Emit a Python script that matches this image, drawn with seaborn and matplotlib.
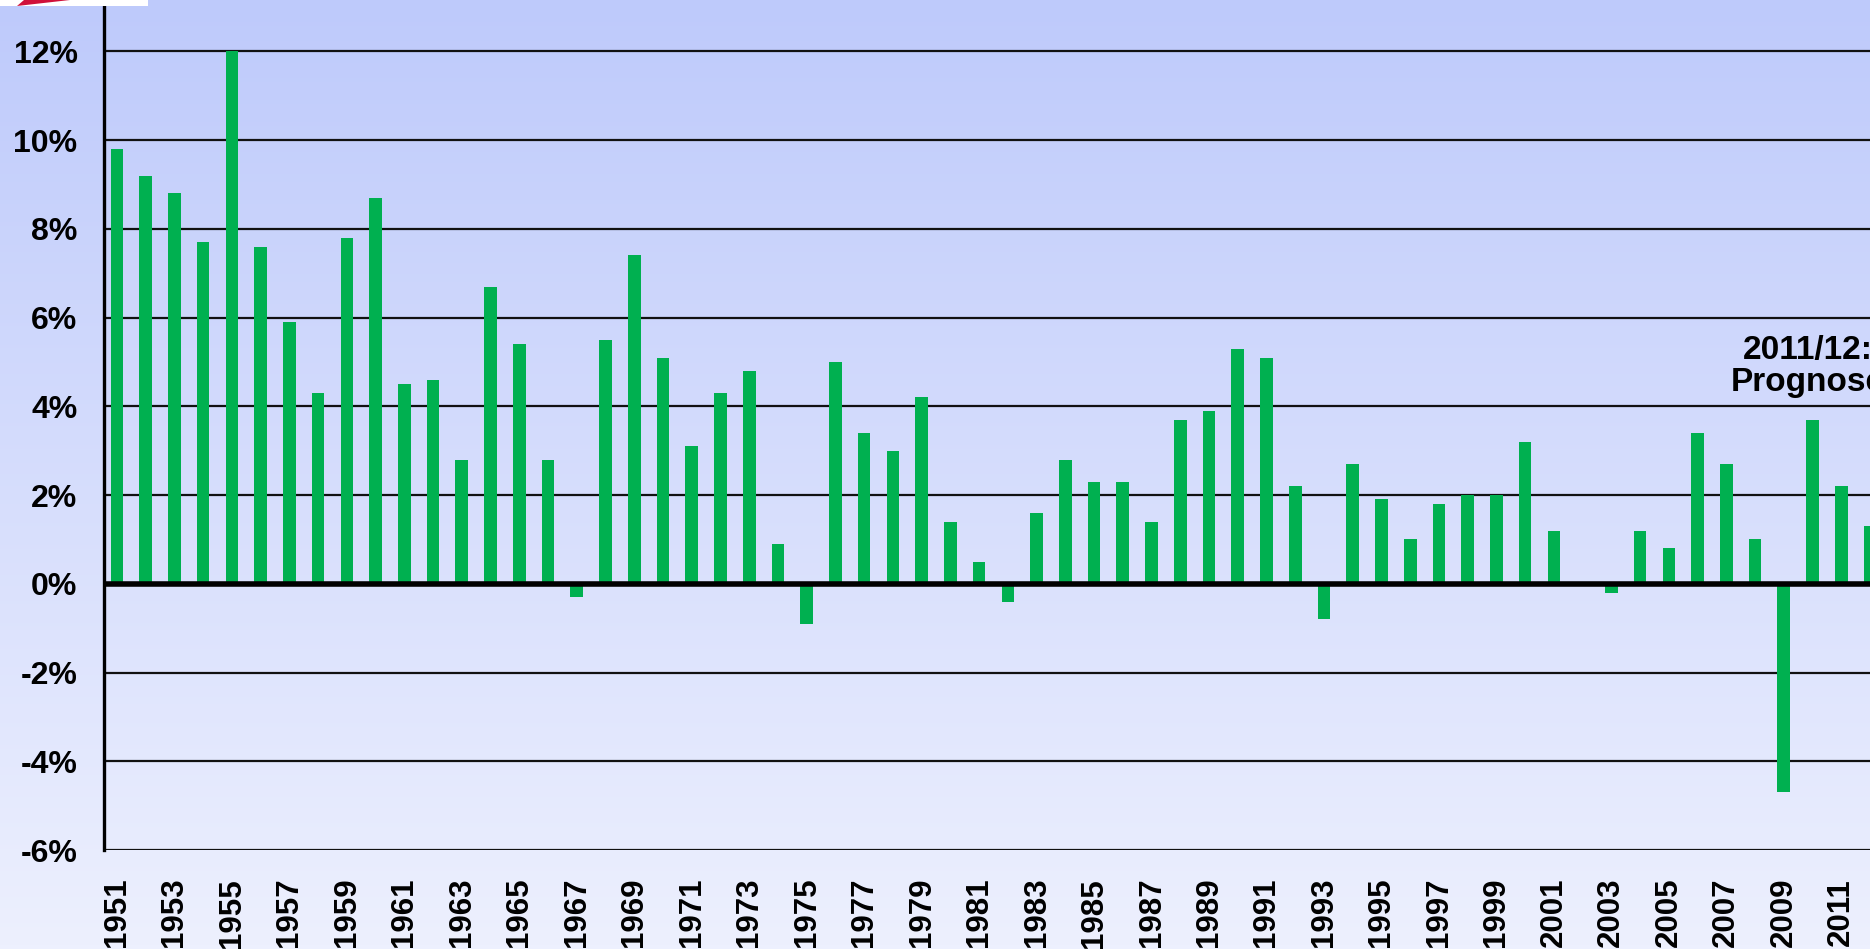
import numpy as np
import pandas as pd
import matplotlib
matplotlib.use("Agg")
import matplotlib.pyplot as plt
import seaborn as sns
from matplotlib.patches import Rectangle, Polygon

# growth rates (percent)
years = list(range(1951, 2013))
growth = [9.8, 9.2, 8.8, 7.7, 12.0, 7.6, 5.9, 4.3, 7.8, 8.7,
          4.5, 4.6, 2.8, 6.7, 5.4, 2.8, -0.3, 5.5, 7.4, 5.1,
          3.1, 4.3, 4.8, 0.9, -0.9, 5.0, 3.4, 3.0, 4.2, 1.4,
          0.5, -0.4, 1.6, 2.8, 2.3, 2.3, 1.4, 3.7, 3.9, 5.3,
          5.1, 2.2, -0.8, 2.7, 1.9, 1.0, 1.8, 2.0, 2.0, 3.2,
          1.2, 0.0, -0.2, 1.2, 0.8, 3.4, 2.7, 1.0, -4.7, 3.7,
          2.2, 1.3]
y_ticks = [-6, -4, -2, 0, 2, 4, 6, 8, 10, 12]
note = "2011/12:\nPrognose"

df = pd.DataFrame({"year": [str(y) for y in years], "growth": growth})

sns.set_theme(style="white")
plt.rcParams["font.family"] = ["Liberation Sans", "DejaVu Sans"]
plt.rcParams["font.weight"] = "bold"
plt.rcParams["text.color"] = "black"
plt.rcParams["xtick.color"] = "black"
plt.rcParams["ytick.color"] = "black"

W, H = 1870, 949
fig = plt.figure(figsize=(W / 100, H / 100), dpi=100)

# vertical gradient background over the whole figure
bg = fig.add_axes([0, 0, 1, 1], zorder=0)
top = np.array([190, 202, 251]) / 255
bot = np.array([237, 240, 254]) / 255
t = np.linspace(0, 1, 256)[:, None]
grad = top[None, :] * (1 - t) + bot[None, :] * t
bg.imshow(grad[:, None, :], aspect="auto", extent=[0, 1, 0, 1])
bg.set_axis_off()

# cut-off logo in the corner
fig.patches.append(Rectangle((0, 1 - 6 / H), 148 / W, 6 / H, transform=fig.transFigure,
                             facecolor="white", edgecolor="none", zorder=5))
fig.patches.append(Polygon([(17 / W, 1 - 6 / H), (24 / W, 1), (70 / W, 1)],
                           closed=True, transform=fig.transFigure,
                           facecolor="#d0103a", edgecolor="none", zorder=6))

ax = fig.add_axes([104 / W, 1 - 850 / H, 1 - 104 / W, (850 - 7) / H], zorder=1)
ax.set_facecolor("none")

sns.barplot(data=df, x="year", y="growth", color="#00B050", saturation=1,
            width=0.44, errorbar=None, linewidth=0, ax=ax, zorder=3)

ax.set_xlim(-0.45, 61.0)
ax.set_ylim(-6, 13)
ax.set_yticks(y_ticks)
ax.set_yticklabels([f"{v}%" for v in y_ticks], fontsize=23, fontweight="bold")
for v in y_ticks:
    ax.axhline(v, color="#111111", lw=1.6, zorder=2)
ax.axhline(0, color="black", lw=4, zorder=4)

ax.set_xticks(range(0, len(years), 2))
ax.set_xticklabels([str(y) for y in years[::2]], rotation=90, fontsize=22.5,
                   fontweight="bold", va="top")
ax.tick_params(axis="x", length=0, pad=20)
ax.tick_params(axis="y", length=8, width=1.6, color="black", direction="out", pad=11)
ax.set_xlabel("")
ax.set_ylabel("")

for s in ["top", "right", "bottom"]:
    ax.spines[s].set_visible(False)
ax.spines["left"].set_color("black")
ax.spines["left"].set_linewidth(2.4)
ax.spines["left"].set_zorder(5)

ax.text(58.85, 4.9, note, ha="center", va="center", fontsize=24,
        fontweight="bold", linespacing=1.05, zorder=6)

fig.savefig("out.png", dpi=100)
